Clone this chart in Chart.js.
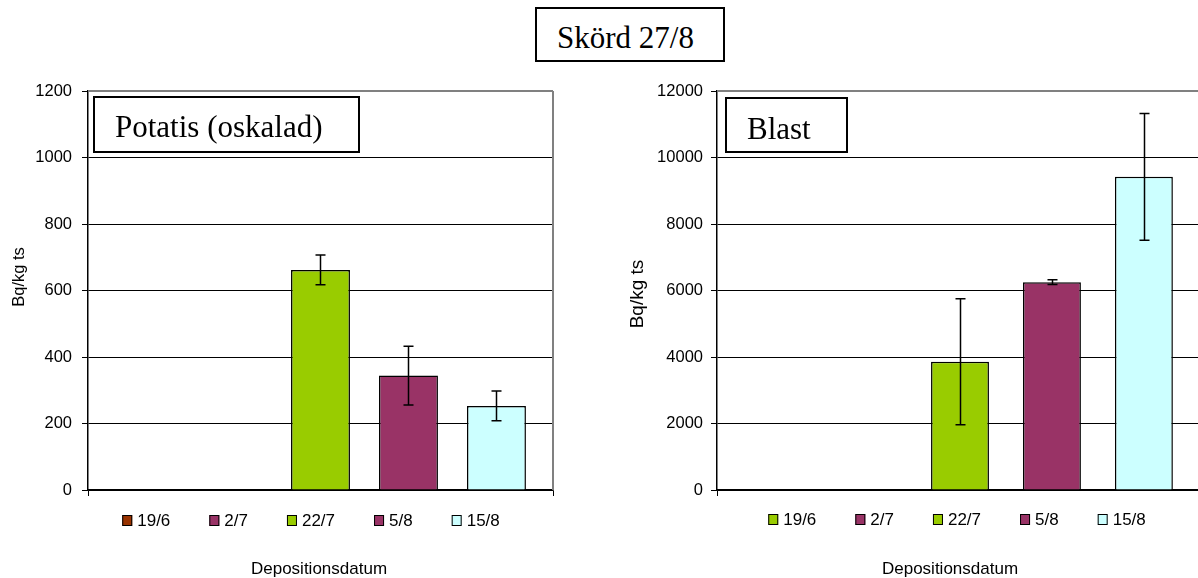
<!DOCTYPE html>
<html>
<head>
<meta charset="utf-8">
<script src="https://cdn.jsdelivr.net/npm/chart.js@4.4.1/dist/chart.umd.min.js"></script>
<style>
  html, body { margin: 0; padding: 0; background: #fff; }
  body { position: relative; width: 1198px; height: 578px; overflow: hidden; }
  #harvest {
    position: absolute; left: 535px; top: 7px; width: 190px; height: 55px;
    box-sizing: border-box; border: 2px solid #000; background: #fff;
    font: 31px 'Liberation Serif', 'Times New Roman', serif; color: #000;
    padding-left: 20px; line-height: 57px; white-space: nowrap;
  }
  canvas { position: absolute; top: 0; }
  #potatis { left: 0; }
  #blast { left: 600px; }
</style>
</head>
<body>
<div id="harvest">Skörd 27/8</div>
<canvas id="potatis" width="565" height="578"></canvas>
<canvas id="blast" width="604" height="578"></canvas>
<script>
// Deposition dates (one bar per date)
const depositionDates = ['19/6', '2/7', '22/7', '5/8', '15/8'];

// Potatis (oskalad), Bq/kg ts
const potatisValues = [null, null, 662, 344, 253];
const potatisErrors = [null, null, 45, 88, 45];
const potatisColors = ['#993300', '#993366', '#99CC00', '#993366', '#CCFFFF'];
const potatisTicks = [0, 200, 400, 600, 800, 1000, 1200];

// Blast, Bq/kg ts
const blastValues = [null, null, 3860, 6250, 9420];
const blastErrors = [null, null, 1895, 70, 1905];
const blastColors = ['#99CC00', '#993366', '#99CC00', '#993366', '#CCFFFF'];
const blastTicks = [0, 2000, 4000, 6000, 8000, 10000, 12000];

const SANS = "'Liberation Sans', Arial, sans-serif";
const SERIF = "'Liberation Serif', 'Times New Roman', serif";

// Symmetric error bars drawn on top of each bar through the value scale
const errorBarPlugin = {
  id: 'errorBars',
  afterDatasetsDraw(chart) {
    const { ctx } = chart;
    const y = chart.scales.y;
    ctx.save();
    ctx.strokeStyle = '#000';
    ctx.lineWidth = 1.5;
    chart.data.datasets.forEach((ds, i) => {
      const meta = chart.getDatasetMeta(i);
      ds.data.forEach((v, j) => {
        const e = ds.errors ? ds.errors[j] : null;
        if (v == null || e == null) return;
        const x = Math.round(meta.data[j].x) + 0.5;
        const yt = y.getPixelForValue(v + e);
        const yb = y.getPixelForValue(v - e);
        ctx.beginPath();
        ctx.moveTo(x, yt); ctx.lineTo(x, yb);
        ctx.moveTo(x - 5, yt); ctx.lineTo(x + 5, yt);
        ctx.moveTo(x - 5, yb); ctx.lineTo(x + 5, yb);
        ctx.stroke();
      });
    });
    ctx.restore();
  }
};

// Plot frame, boxed panel label, legend row and axis captions
const decorPlugin = {
  id: 'decor',
  afterDraw(chart, args, opts) {
    const { ctx, chartArea: a } = chart;
    ctx.save();

    // gray plot-area frame (top and optional right edge)
    ctx.strokeStyle = '#808080';
    ctx.lineWidth = 2;
    ctx.beginPath();
    ctx.moveTo(a.left, a.top); ctx.lineTo(a.right, a.top);
    if (opts.rightEdge) { ctx.moveTo(a.right, a.top); ctx.lineTo(a.right, a.bottom); }
    ctx.stroke();

    // boxed panel label
    const p = opts.panel;
    const bx = a.left + p.dx, by = a.top + p.dy;
    ctx.fillStyle = '#fff';
    ctx.fillRect(bx, by, p.w, p.h);
    ctx.strokeStyle = '#000';
    ctx.lineWidth = 2;
    ctx.strokeRect(bx, by, p.w, p.h);
    ctx.fillStyle = '#000';
    ctx.font = '31px ' + SERIF;
    ctx.textAlign = 'left';
    ctx.textBaseline = 'alphabetic';
    ctx.fillText(p.text, bx + p.textDx, by + p.baseline);

    // legend row
    const lg = opts.legend;
    ctx.font = lg.size + 'px ' + SANS;
    const items = chart.data.datasets.map(ds => ({
      label: ds.label, color: ds.backgroundColor, w: ctx.measureText(ds.label).width
    }));
    const box = 10, gapText = 5, gapItem = 39;
    const total = items.reduce((s, it) => s + box + gapText + it.w, 0) + gapItem * (items.length - 1);
    let x = lg.x - total / 2;
    ctx.textBaseline = 'middle';
    items.forEach(it => {
      ctx.fillStyle = it.color;
      ctx.fillRect(x, lg.y - 5, box, 11);
      ctx.strokeStyle = '#000';
      ctx.lineWidth = 1;
      ctx.strokeRect(x + 0.5, lg.y - 5 + 0.5, box - 1, 10);
      ctx.fillStyle = '#000';
      ctx.fillText(it.label, x + box + gapText, lg.y + 1);
      x += box + gapText + it.w + gapItem;
    });

    // x caption
    const xc = opts.xCaption;
    ctx.font = xc.size + 'px ' + SANS;
    ctx.textAlign = 'center';
    ctx.fillText(xc.text, xc.x, xc.y);

    // y caption (rotated)
    const yc = opts.yCaption;
    ctx.translate(yc.x, yc.y);
    ctx.rotate(-Math.PI / 2);
    ctx.font = yc.size + 'px ' + SANS;
    ctx.fillText(yc.text, 0, 0);

    ctx.restore();
  }
};

function makeChart(id, values, errors, colors, ticks, cfg) {
  const datasets = depositionDates.map((d, i) => ({
    label: d,
    data: [values[i]],
    errors: [errors[i]],
    backgroundColor: colors[i],
    borderColor: '#000',
    borderWidth: 1.5,
    categoryPercentage: cfg.catPct,
    barPercentage: cfg.barPct
  }));
  return new Chart(document.getElementById(id), {
    type: 'bar',
    data: { labels: [''], datasets },
    plugins: [errorBarPlugin, decorPlugin],
    options: {
      responsive: false,
      animation: false,
      devicePixelRatio: 1,
      layout: { padding: { top: 91, right: cfg.padRight, left: 0, bottom: 0 } },
      scales: {
        x: {
          type: 'category',
          offset: true,
          grid: { drawOnChartArea: false, drawTicks: true, tickLength: 6, color: '#000', offset: true },
          border: { color: '#000', width: 1.5 },
          ticks: { display: false },
          afterFit: s => { s.height = 88; }
        },
        y: {
          min: ticks[0],
          max: ticks[ticks.length - 1],
          afterBuildTicks: s => { s.ticks = ticks.map(v => ({ value: v })); },
          grid: { color: '#000', lineWidth: 1, tickLength: 6, tickColor: '#000' },
          border: { color: '#000', width: 1.5 },
          ticks: {
            color: '#000', padding: cfg.tickPad,
            font: { family: SANS, size: 16.5 },
            callback: v => String(v)
          },
          afterFit: s => { s.width = cfg.yWidth; }
        }
      },
      plugins: {
        legend: { display: false },
        tooltip: { enabled: false },
        title: { display: false },
        decor: cfg.decor
      }
    }
  });
}

makeChart('potatis', potatisValues, potatisErrors, potatisColors, potatisTicks, {
  catPct: 0.946, barPct: 0.67, padRight: 12, yWidth: 88, tickPad: 10,
  decor: {
    rightEdge: true,
    panel: { text: 'Potatis (oskalad)', dx: 6, dy: 6, w: 265, h: 55, textDx: 21, baseline: 40 },
    legend: { x: 311, y: 520, size: 17 },
    xCaption: { text: 'Depositionsdatum', x: 319, y: 569, size: 17 },
    yCaption: { text: 'Bq/kg ts', x: 19, y: 277, size: 16.5 }
  }
});

makeChart('blast', blastValues, blastErrors, blastColors, blastTicks, {
  catPct: 0.946, barPct: 0.63, padRight: 1, yWidth: 117, tickPad: 8,
  decor: {
    rightEdge: false,
    panel: { text: 'Blast', dx: 9, dy: 7, w: 121, h: 54, textDx: 21, baseline: 41 },
    legend: { x: 357, y: 519, size: 17 },
    xCaption: { text: 'Depositionsdatum', x: 350, y: 569, size: 17 },
    yCaption: { text: 'Bq/kg ts', x: 38, y: 294, size: 19 }
  }
});
</script>
</body>
</html>
